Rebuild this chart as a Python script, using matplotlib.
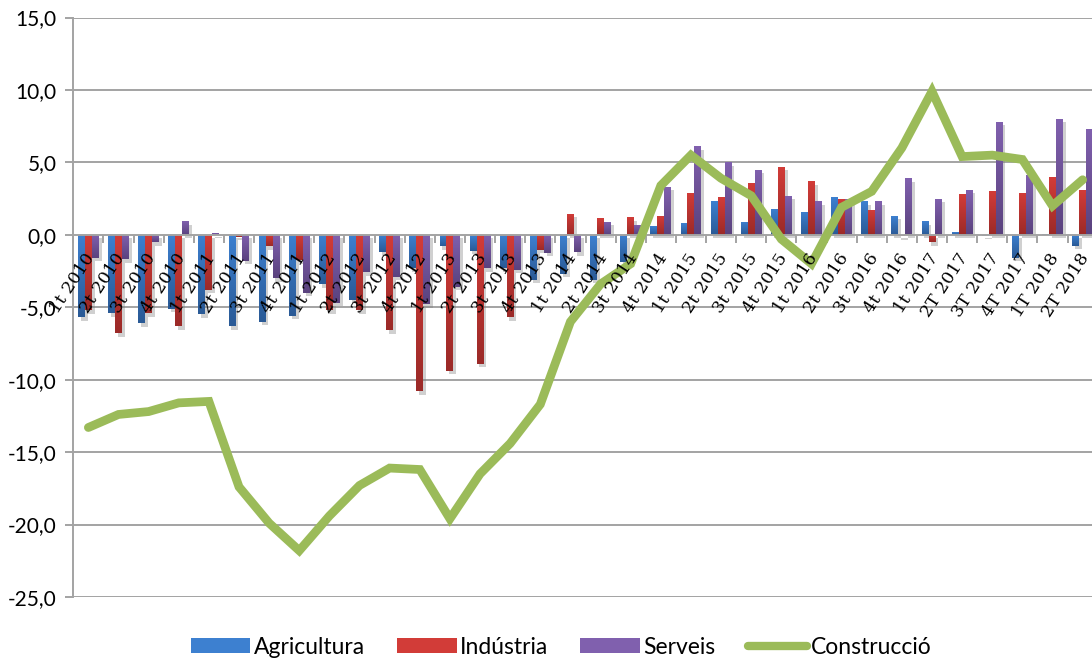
import numpy as np
import matplotlib
matplotlib.use("Agg")
import matplotlib.pyplot as plt
from matplotlib.patches import Patch
from matplotlib.lines import Line2D
from matplotlib.transforms import ScaledTranslation
import matplotlib.patheffects as pe
import matplotlib.colors as mcolors

categories = ["1t 2010", "2t 2010", "3t 2010", "4t 2010", "1t 2011", "2t 2011", "3t 2011", "4t 2011",
              "1t 2012", "2t 2012", "3t 2012", "4t 2012", "1t 2013", "2t 2013", "3t 2013", "4t 2013",
              "1t 2014", "2t 2014", "3t 2014", "4t 2014", "1t 2015", "2t 2015", "3t 2015", "4t 2015",
              "1t 2016", "2t 2016", "3t 2016", "4t 2016", "1t 2017", "2T 2017", "3T 2017", "4T 2017",
              "1T 2018", "2T 2018"]

agricultura = [-5.7, -5.4, -6.1, -5.1, -5.5, -6.3, -6.0, -5.6, -3.4, -4.5, -1.2, -2.3, -0.8, -1.1, -2.3, -3.1,
               -2.7, -3.1, -1.9, 0.6, 0.8, 2.3, 0.9, 1.8, 1.6, 2.6, 2.3, 1.3, 0.95, 0.2, -0.05, -1.6,
               0.05, -0.75]
industria = [-5.2, -6.8, -5.4, -6.3, -3.8, -0.15, -0.8, -1.75, -5.2, -5.2, -6.6, -10.8, -9.4, -8.9, -5.7, -1.05,
             1.45, 1.15, 1.2, 1.3, 2.9, 2.6, 3.6, 4.7, 3.7, 2.5, 1.7, -0.1, -0.5, 2.8, 3.0, 2.9,
             4.0, 3.1]
serveis = [-1.6, -1.7, -0.5, 0.95, 0.1, -1.8, -3.0, -4.0, -4.7, -2.6, -2.9, -4.8, -3.6, -2.3, -2.4, -1.25,
           -1.2, 0.9, 0.7, 3.3, 6.1, 5.0, 4.5, 2.7, 2.3, 2.5, 2.3, 3.9, 2.5, 3.1, 7.8, 4.1,
           8.0, 7.3]
construccio = [-13.3, -12.4, -12.2, -11.6, -11.5, -17.4, -19.9, -21.8, -19.4, -17.3, -16.1, -16.2, -19.6, -16.5,
               -14.4, -11.7, -6.0, -3.4, -2.0, 3.4, 5.5, 3.9, 2.7, -0.3, -2.0, 1.9, 3.0, 6.0, 9.9, 5.4,
               5.5, 5.2, 2.0, 3.8]

series_names = ["Agricultura", "Indústria", "Serveis", "Construcció"]
y_ticks = [-25, -20, -15, -10, -5, 0, 5, 10, 15]

W, H = 1092, 664
fig = plt.figure(figsize=(W / 100, H / 100), dpi=100)
left_px, right_px, top_px, bot_px = 73.3, 1097.7, 17.5, 597.0
ax = fig.add_axes([left_px / W, 1 - bot_px / H, (right_px - left_px) / W, (bot_px - top_px) / H])

x = np.arange(len(categories))
bw = 0.23
grid_c = "#a3a3a3"

for v in y_ticks:
    if v != 0:
        ax.axhline(v, color=grid_c, lw=1.4, zorder=0)

# colors: (top light, bottom dark)
grads = [("#3d80d0", "#2a5a96"), ("#d23c38", "#9b2a28"), ("#8060ae", "#5a427e")]
data_sets = [agricultura, industria, serveis]
offsets = [-bw, 0, bw]

grad_img = np.linspace(0, 1, 64).reshape(-1, 1)
for vals, (c1, c2), off in zip(data_sets, grads, offsets):
    cmap = mcolors.LinearSegmentedColormap.from_list("g", [c1, c2])
    bars = ax.bar(x + off, vals, width=bw, color=c2, zorder=2, linewidth=0)
    for b in bars:
        b.set_path_effects([pe.SimplePatchShadow(offset=(2, -2.5), shadow_rgbFace="#7a7a7a", alpha=0.35),
                            pe.Normal()])
        x0, y0b = b.get_x(), b.get_y()
        w, h = b.get_width(), b.get_height()
        ylo, yhi = min(y0b, y0b + h), max(y0b, y0b + h)
        if yhi - ylo < 1e-6:
            continue
        im = ax.imshow(grad_img, cmap=cmap, extent=[x0, x0 + w, ylo, yhi], aspect="auto",
                       origin="upper", zorder=2.5, interpolation="bilinear")
        im.set_clip_path(b)

ax.plot(x, construccio, color="#9bbb59", lw=6.3, solid_joinstyle="miter", solid_capstyle="round", zorder=4)

ax.set_xlim(-0.5, len(categories) - 0.5)
ax.set_ylim(-25, 15)
ax.set_aspect("auto")

for s in ["top", "right"]:
    ax.spines[s].set_visible(False)
ax.spines["bottom"].set_position(("data", 0))
ax.spines["bottom"].set_color(grid_c)
ax.spines["bottom"].set_linewidth(1.4)
ax.spines["left"].set_color(grid_c)
ax.spines["left"].set_linewidth(1.4)

ax.set_yticks(y_ticks)
ax.set_yticklabels([f"{v:.1f}".replace(".", ",") for v in y_ticks], fontfamily="Lato", fontsize=15)
ax.tick_params(axis="y", length=6, width=1.4, color=grid_c, pad=6)

ax.set_xticks(np.arange(len(categories) + 1) - 0.5)
ax.set_xticklabels([])
ax.tick_params(axis="x", which="major", length=6, width=1.4, color=grid_c, direction="out")

# category labels, rotated, anchored just below the zero line at each category
lbl_tr = ax.transData + ScaledTranslation(0.03, -0.20, fig.dpi_scale_trans)
for i, c in enumerate(categories):
    ax.text(i, 0, c, transform=lbl_tr, rotation=57, rotation_mode="anchor", ha="right", va="center",
            fontfamily="DejaVu Serif", fontsize=12.5, color="black", zorder=6, clip_on=False)

handles = [Patch(facecolor=grads[0][0], edgecolor="none"),
           Patch(facecolor=grads[1][0], edgecolor="none"),
           Patch(facecolor=grads[2][0], edgecolor="none"),
           Line2D([0], [0], color="#9bbb59", lw=6, solid_capstyle="round")]
fig.legend(handles, series_names, loc="center", bbox_to_anchor=(561 / W, 1 - 647 / H), ncol=4,
           frameon=False, prop={"family": "Lato", "size": 16.5}, handlelength=2.6, handleheight=0.65,
           handletextpad=0.15, columnspacing=1.4)

fig.savefig("out.png", dpi=100, facecolor="white")
